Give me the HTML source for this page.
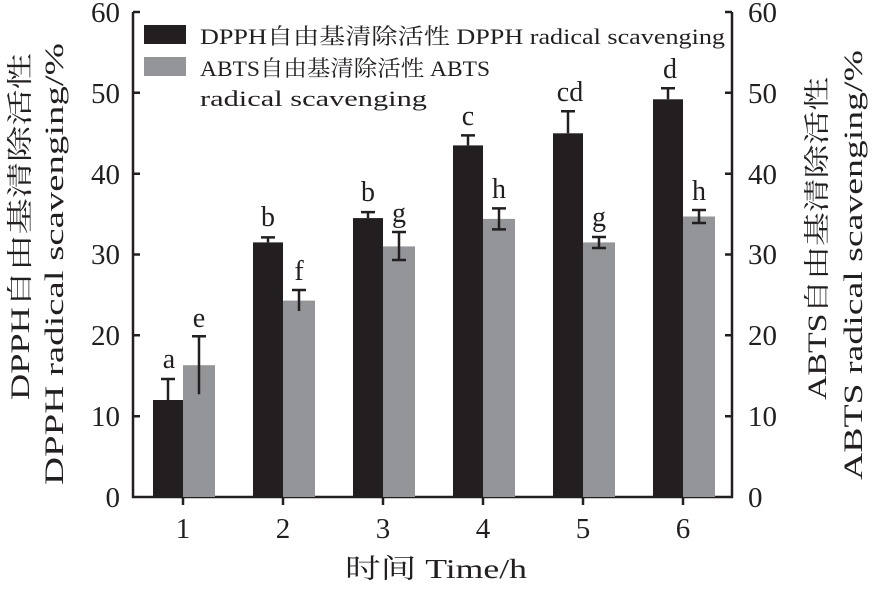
<!DOCTYPE html>
<html><head><meta charset="utf-8"><style>
body{margin:0;background:#fff}
text{font-family:"Liberation Serif","Noto Serif CJK SC","Noto Sans CJK SC",serif;fill:#231f20}
.m{font-family:"Liberation Serif","Noto Serif CJK SC",serif}
</style></head><body>
<svg width="874" height="585" viewBox="0 0 874 585" xmlns="http://www.w3.org/2000/svg">
<g stroke="#231f20" stroke-width="2.5" fill="none">
<path d="M133 12V497H732V12"/>
<path d="M133 12h7M133 92.8h7M133 173.7h7M133 254.5h7M133 335.3h7M133 416.2h7"/>
<path d="M732 12h-7M732 92.8h-7M732 173.7h-7M732 254.5h-7M732 335.3h-7M732 416.2h-7"/>
<path d="M183 497v8M283 497v8M383 497v8M483 497v8M583 497v8M683 497v8"/>
</g>
<g font-size="29">
<g text-anchor="end"><text x="120" y="507">0</text><text x="120" y="426">10</text><text x="120" y="345">20</text><text x="120" y="264">30</text><text x="120" y="184">40</text><text x="120" y="103">50</text><text x="120" y="22">60</text></g>
<g text-anchor="start"><text x="748" y="507">0</text><text x="748" y="426">10</text><text x="748" y="345">20</text><text x="748" y="264">30</text><text x="748" y="184">40</text><text x="748" y="103">50</text><text x="748" y="22">60</text></g>
<g text-anchor="middle"><text x="183" y="538">1</text><text x="283" y="538">2</text><text x="383" y="538">3</text><text x="483" y="538">4</text><text x="583" y="538">5</text><text x="683" y="538">6</text></g>
</g>
<text class="m" x="345" y="578" font-size="27" textLength="182" lengthAdjust="spacingAndGlyphs">时间 Time/h</text>
<g font-size="26">
<text class="m" transform="translate(29,400) rotate(-90)" textLength="347" lengthAdjust="spacingAndGlyphs">DPPH自由基清除活性</text>
<text class="m" transform="translate(63,485) rotate(-90)" textLength="442" lengthAdjust="spacingAndGlyphs">DPPH radical scavenging/%</text>
<text class="m" transform="translate(826,400) rotate(-90)" textLength="323" lengthAdjust="spacingAndGlyphs">ABTS自由基清除活性</text>
<text class="m" transform="translate(862,480) rotate(-90)" textLength="430" lengthAdjust="spacingAndGlyphs">ABTS radical scavenging/%</text>
</g>
<g fill="#231f20">
<rect x="153" y="400" width="30" height="97"/>
<rect x="253" y="242.4" width="30" height="254.6"/>
<rect x="353" y="218.1" width="30" height="278.9"/>
<rect x="453" y="145.4" width="30" height="351.6"/>
<rect x="553" y="133.3" width="30" height="363.7"/>
<rect x="653" y="99.3" width="30" height="397.7"/>
</g>
<g fill="#939598">
<rect x="183" y="365.2" width="32" height="131.8"/>
<rect x="283" y="300.6" width="32" height="196.4"/>
<rect x="383" y="246.4" width="32" height="250.6"/>
<rect x="483" y="218.9" width="32" height="278.1"/>
<rect x="583" y="242.4" width="32" height="254.6"/>
<rect x="683" y="216.5" width="32" height="280.5"/>
</g>
<g stroke="#231f20" stroke-width="2.5" fill="none">
<path d="M168 400v-21M161 379h14"/>
<path d="M199 394.3v-58M192 336.3h14"/>
<path d="M268 242.4v-5M261 237.4h14"/>
<path d="M299 311v-21M292 290h14"/>
<path d="M368 218.1v-6M361 212.1h14"/>
<path d="M399 260v-28M392 260h14M392 232h14"/>
<path d="M468 145.4v-10M461 135.4h14"/>
<path d="M499 229.4v-21M492 229.4h14M492 208.4h14"/>
<path d="M568 133.3v-22M561 111.3h14"/>
<path d="M599 248v-11M592 248h14M592 237h14"/>
<path d="M668 99.3v-11M661 88.3h14"/>
<path d="M699 223v-13M692 223h14M692 210h14"/>
</g>
<g font-size="28" text-anchor="middle">
<text x="169" y="368">a</text><text x="199" y="327">e</text>
<text x="268" y="226">b</text><text x="299" y="280">f</text>
<text x="368" y="201">b</text><text x="399" y="222">g</text>
<text x="468" y="125">c</text><text x="499" y="198">h</text>
<text x="570" y="101">cd</text><text x="599" y="226">g</text>
<text x="670" y="78">d</text><text x="699" y="200">h</text>
</g>
<rect x="144" y="25" width="42" height="19" fill="#231f20"/>
<rect x="144" y="57" width="42" height="19" fill="#939598"/>
<g font-size="22">
<text class="m" x="200" y="44" textLength="525" lengthAdjust="spacingAndGlyphs">DPPH自由基清除活性 DPPH radical scavenging</text>
<text class="m" x="200" y="76" textLength="290" lengthAdjust="spacingAndGlyphs">ABTS自由基清除活性 ABTS</text>
<text class="m" x="200" y="106" textLength="227" lengthAdjust="spacingAndGlyphs">radical scavenging</text>
</g>
</svg>
</body></html>
